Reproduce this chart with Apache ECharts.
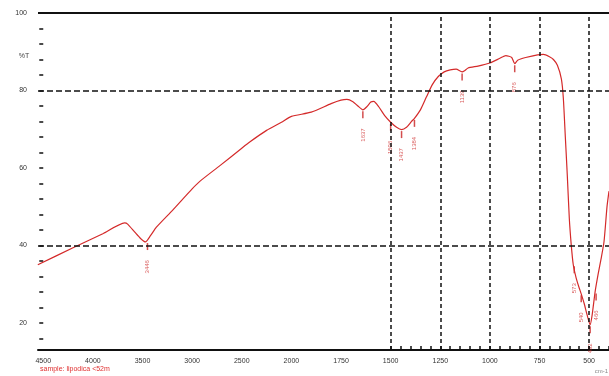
<!DOCTYPE html>
<html><head><meta charset="utf-8">
<script src="https://cdn.jsdelivr.net/npm/echarts@6/dist/echarts.min.js"></script>
<style>html,body{margin:0;padding:0;background:#fff}#c{width:609px;height:376px}</style>
</head><body><div id="c"></div>
<script>
const tickLabels = ['4500','4000','3500','3000','2500','2000','1750','1500','1250','1000','750','500'];
const yTickLabels = [20, 40, 60, 80, 100];
const wavenumbers = [4555,4200,3900,3680,3650,3580,3520,3470,3420,3360,3200,3000,2920,2720,2500,2420,2250,2100,2000,1900,1800,1750,1720,1690,1665,1640,1620,1600,1585,1560,1530,1500,1470,1445,1420,1395,1380,1350,1320,1290,1260,1230,1200,1170,1140,1130,1110,1060,1000,950,920,890,875,860,820,760,730,700,680,660,640,630,620,610,600,590,580,565,550,540,525,510,495,485,470,455,440,425,410,400];
const transmittance = [35.0,39.4,43.0,45.8,45.5,43.5,41.8,40.9,42.5,44.7,49.0,54.6,56.6,60.6,65.1,66.7,69.7,71.8,73.3,74.4,76.6,77.5,77.7,77.1,76.0,75.0,75.8,77.0,77.2,75.8,73.5,71.8,70.5,69.9,70.5,72.0,72.8,75.0,78.3,81.5,83.6,84.8,85.3,85.5,84.8,85.0,85.8,86.3,87.1,88.3,89.0,88.5,86.9,87.8,88.5,89.2,89.3,88.7,88.0,86.5,83.0,78.0,68.0,58.0,47.0,40.0,35.0,31.5,29.0,27.5,25.0,22.0,19.5,22.0,28.0,32.5,36.5,41.0,50.0,54.0];
const peakWavenumbers = [3450,1640,1500,1445,1380,1140,875,575,540,495,465];
const peakTransmittance = [41.0,75.0,71.8,69.9,72.8,84.8,86.9,35.0,27.5,19.5,28.0];
const peakLabels = ['3446','1637','1506','1437','1384','1139','876','573','540','492','466'];

// broken wavenumber scale: 500 cm-1 per division above 2000, 250 cm-1 below
function pos(wn){ return wn >= 2000 ? (4500 - wn) / 500 : 5 + (2000 - wn) / 250; }

const lineData = wavenumbers.map((w, i) => [pos(w), transmittance[i]]);
const peakData = peakWavenumbers.map((w, i) => ({value: [pos(w), peakTransmittance[i]], name: peakLabels[i]}));

const xMajor = [0,1,2,3,4,5,6,7,8,9,10,11];
const xTicks = [];
for (let v = 7; v <= 11.41; v += 0.2) xTicks.push(Math.round(v * 10) / 10);
const yTicks = [];
for (let v = 16; v <= 100; v += 4) yTicks.push(v);

const chart = echarts.init(document.getElementById('c'), null, {renderer: 'canvas'});
const font = 'Liberation Sans';
chart.setOption({
  animation: false,
  backgroundColor: '#ffffff',
  grid: {left: 38, right: -1, top: 13, bottom: 26},
  xAxis: {
    type: 'value', min: pos(4553), max: pos(400),
    axisLine: {show: true, lineStyle: {color: '#111', width: 2}},
    axisTick: {show: true, inside: true, length: 4, customValues: xTicks, lineStyle: {color: '#111', width: 1.5}},
    axisLabel: {customValues: xMajor, margin: 8, fontSize: 7, color: '#333', fontFamily: font,
      formatter: v => tickLabels[Math.round(v)]},
    splitLine: {show: false}
  },
  yAxis: {
    type: 'value', min: 13, max: 100,
    name: '%T', nameLocation: 'end', nameGap: -47,
    nameTextStyle: {fontSize: 7, color: '#444', fontFamily: font, align: 'right', padding: [0, 14, 0, 0]},
    axisLine: {show: false},
    axisTick: {show: true, length: 4, customValues: yTicks, lineStyle: {color: '#111', width: 1.5}},
    axisLabel: {customValues: yTickLabels, margin: 11, fontSize: 7, color: '#333', fontFamily: font},
    splitLine: {show: false}
  },
  graphic: [
    {type: 'text', left: 40, top: 366, style: {text: 'sample: lipodica <52m', fontSize: 7, fill: '#e03030', fontFamily: font}},
    {type: 'text', right: 1, top: 368, style: {text: 'cm-1', fontSize: 6, fill: '#888', fontFamily: font}}
  ],
  series: [
    {
      type: 'line', data: lineData, showSymbol: false, smooth: 0.2,
      lineStyle: {color: '#d42a2a', width: 1.2},
      markLine: {
        silent: true, symbol: 'none', label: {show: false},
        data: [
          {yAxis: 80, lineStyle: {type: [6, 3], color: '#111', width: 1.5}},
          {yAxis: 40, lineStyle: {type: [6, 3], color: '#111', width: 1.5}},
          {yAxis: 100, lineStyle: {type: 'solid', color: '#111', width: 2}},
          {xAxis: 7, lineStyle: {type: [4, 3], color: '#111', width: 1.5}},
          {xAxis: 8, lineStyle: {type: [4, 3], color: '#111', width: 1.5}},
          {xAxis: 9, lineStyle: {type: [4, 3], color: '#111', width: 1.5}},
          {xAxis: 10, lineStyle: {type: [4, 3], color: '#111', width: 1.5}},
          {xAxis: 11, lineStyle: {type: [4, 3], color: '#111', width: 1.5}}
        ]
      }
    },
    {
      type: 'scatter', data: peakData, symbol: 'rect', symbolSize: [1.5, 7], symbolOffset: [0, 5],
      itemStyle: {color: '#c82020'}, silent: true,
      label: {show: true, position: 'bottom', distance: 10, rotate: 90, align: 'right', verticalAlign: 'middle',
        fontSize: 6, color: '#d03030', fontFamily: font, formatter: p => p.name}
    }
  ]
});
</script>
</body></html>
